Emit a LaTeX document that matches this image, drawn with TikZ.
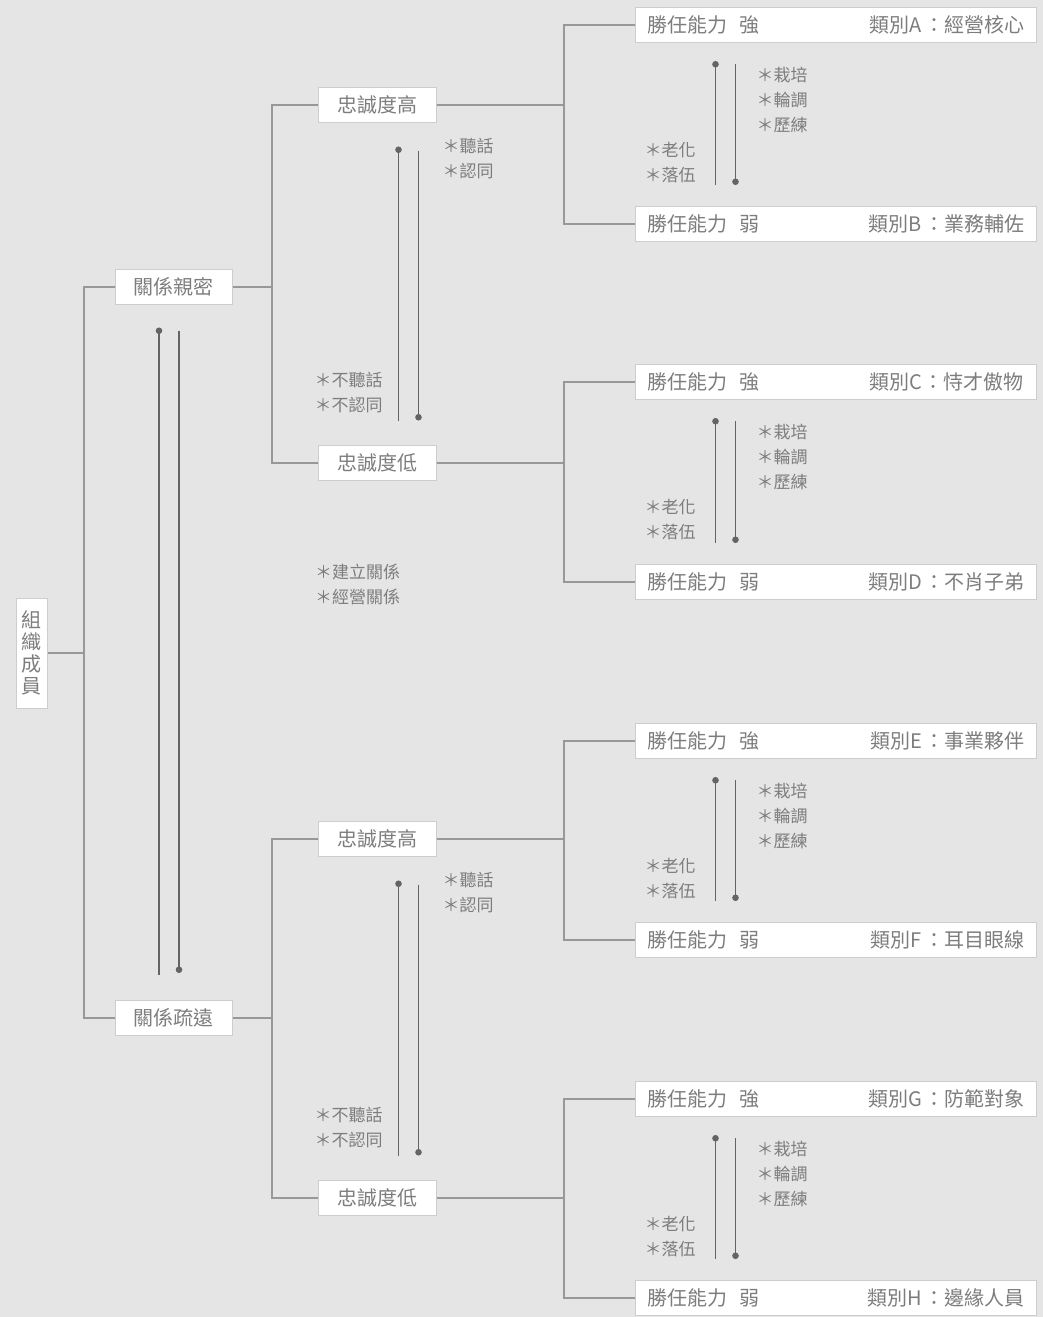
\documentclass[tikz,border=0pt]{standalone}
\usepackage{fontspec}
\setmainfont{Noto Sans CJK TC}
\usetikzlibrary{arrows.meta,positioning,calc}
\definecolor{paper}{RGB}{229,229,229}
\definecolor{ink}{RGB}{125,125,125}
\definecolor{linegray}{RGB}{152,152,152}
\definecolor{railgray}{RGB}{100,100,100}
\definecolor{framegray}{RGB}{205,205,205}
\tikzset{
  wire/.style={linegray,line width=1.4pt},
  upflow/.style={railgray,line width=1.1pt,{Circle[length=6.5pt]}-},
  downflow/.style={railgray,line width=1.1pt,-{Circle[length=6.5pt]}},
  box/.style={draw=framegray,fill=white,line width=1pt,text=ink,
    font=\fontsize{20}{22}\selectfont,minimum height=35pt,inner ysep=0pt,inner xsep=12pt},
  rank/.style={box,text width=377pt},
  note/.style={anchor=north west,inner sep=0pt,align=left,text=ink,
    font=\fontsize{17}{25}\selectfont}
}

\begin{document}
\begin{tikzpicture}[x=1pt,y=-1pt]
  \useasboundingbox (0,0) rectangle (1043,1317);
  \fill[paper] (0,0) rectangle (1043,1317);

  \node[box,minimum width=31pt,minimum height=110pt,inner xsep=0pt,align=center] (members) at (31.5,653) {組\\織\\成\\員};
  \node[box,minimum width=117pt] (close) at (173.5,287) {關係親密};
  \node[box,minimum width=117pt] (distant) at (173.5,1018) {關係疏遠};
  \node[box,minimum width=118pt] (closehi) at (377,105) {忠誠度高};
  \node[box,minimum width=118pt] (closelo) at (377,463) {忠誠度低};
  \node[box,minimum width=118pt] (distanthi) at (377,839) {忠誠度高};
  \node[box,minimum width=118pt] (distantlo) at (377,1198) {忠誠度低};

  \foreach \name/\ypos/\grade/\letter/\kind in {A/25/強/A/經營核心,B/224/弱/B/業務輔佐,
      C/382/強/C/恃才傲物,D/582/弱/D/不肖子弟,E/741/強/E/事業夥伴,F/940/弱/F/耳目眼線,
      G/1099/強/G/防範對象,H/1298/弱/H/邊緣人員}
    \node[rank] (\name) at (835.5,\ypos) {勝任能力\hspace{.6em}\grade\hfill 類別\letter\hspace{.1em}：\kind};

  \coordinate (rootjoin) at (84,653);
  \coordinate (closejoin) at (272,287);
  \coordinate (distantjoin) at (272,1018);
  \coordinate (closehijoin) at (564,105);
  \coordinate (closelojoin) at (564,463);
  \coordinate (distanthijoin) at (564,839);
  \coordinate (distantlojoin) at (564,1198);

  \draw[wire] (members.east) -- (rootjoin);
  \draw[wire] (close.west) -| (rootjoin) |- (distant.west);
  \draw[wire] (close.east) -- (closejoin);
  \draw[wire] (closehi.west) -| (closejoin) |- (closelo.west);
  \draw[wire] (distant.east) -- (distantjoin);
  \draw[wire] (distanthi.west) -| (distantjoin) |- (distantlo.west);
  \draw[wire] (closehi.east) -- (closehijoin);
  \draw[wire] (A.west) -| (closehijoin) |- (B.west);
  \draw[wire] (closelo.east) -- (closelojoin);
  \draw[wire] (C.west) -| (closelojoin) |- (D.west);
  \draw[wire] (distanthi.east) -- (distanthijoin);
  \draw[wire] (E.west) -| (distanthijoin) |- (F.west);
  \draw[wire] (distantlo.east) -- (distantlojoin);
  \draw[wire] (G.west) -| (distantlojoin) |- (H.west);

  \draw[upflow] ($(close.south west)+(44.5,22.5)$) -- ($(distant.north west)+(44.5,-25)$);
  \draw[downflow] ($(close.south west)+(64.5,25.5)$) -- ($(distant.north west)+(64.5,-27)$);
  \node[note] (bond) at (315,564) {＊建立關係\\＊經營關係};

  \foreach \hi/\lo in {closehi/closelo,distanthi/distantlo}{
    \draw[upflow] ($(\hi.south west)+(81,23.5)$) -- ($(\lo.north west)+(81,-24.5)$);
    \draw[downflow] ($(\hi.south west)+(101,27.5)$) -- ($(\lo.north west)+(101,-24.5)$);
    \node[note] (\hi-obey) at ($(\hi.south west)+(125,14.5)$) {＊聽話\\＊認同};
    \node[note] (\lo-defy) at ($(\lo.north west)+(-3,-73.5)$) {＊不聽話\\＊不認同};
  }

  \foreach \hi/\lo in {A/B,C/D,E/F,G/H}{
    \draw[upflow] ($(\hi.south west)+(81,18)$) -- ($(\lo.north west)+(81,-21)$);
    \draw[downflow] ($(\hi.south west)+(101,21)$) -- ($(\lo.north west)+(101,-21)$);
    \node[note] (\hi-grow) at ($(\hi.south west)+(122,24)$) {＊栽培\\＊輪調\\＊歷練};
    \node[note] (\hi-fade) at ($(\hi.south west)+(10,99)$) {＊老化\\＊落伍};
  }
\end{tikzpicture}
\end{document}
